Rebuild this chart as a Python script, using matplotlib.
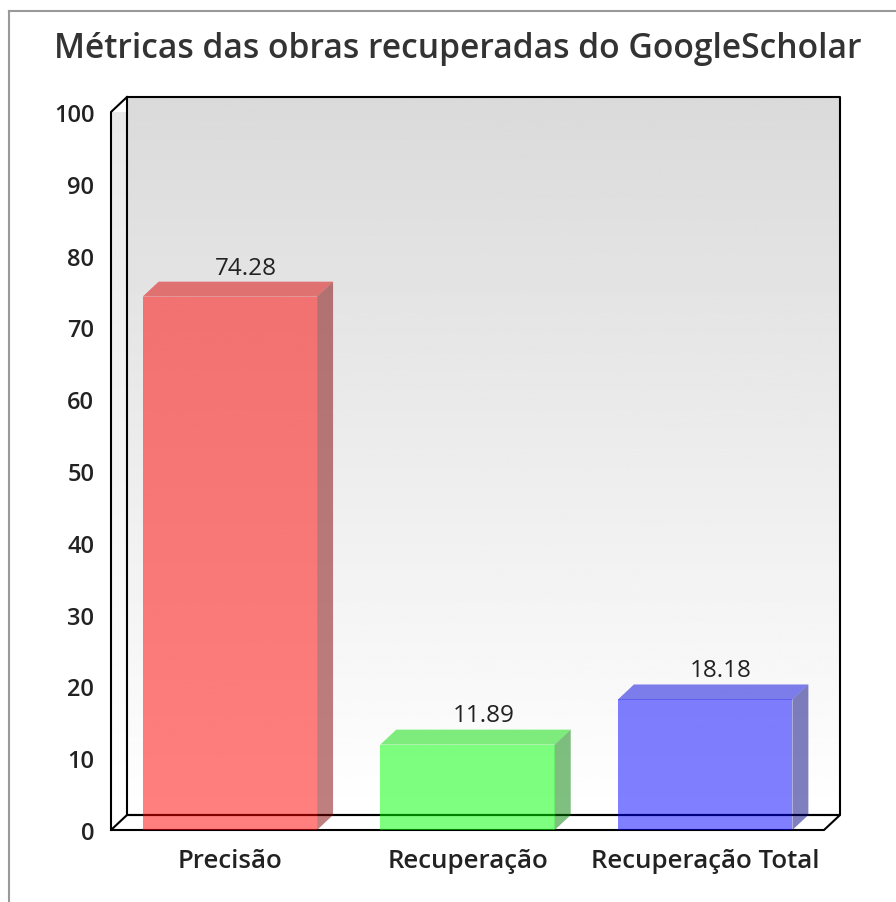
import numpy as np
import matplotlib
matplotlib.use("Agg")
import matplotlib.pyplot as plt
from matplotlib.patches import Polygon, Rectangle
from matplotlib.lines import Line2D

# data
categories = ["Precisão", "Recuperação", "Recuperação Total"]
values = [74.28, 11.89, 18.18]
value_labels = ["74.28", "11.89", "18.18"]
face_colors = [(1.0, 0.0, 0.0), (0.0, 1.0, 0.0), (0.0, 0.0, 1.0)]
yticks = list(range(0, 101, 10))

plt.rcParams['font.family'] = ['Open Sans', 'DejaVu Sans']

fig = plt.figure(figsize=(8.96, 9.03), dpi=100)
ax = fig.add_axes([111/896, 72/903, 713/896, 718/903])

x0, x1 = -0.5, len(categories) - 0.5
ymax = 100
dx = 16 / 713 * (x1 - x0)   # depth offset in data units
dy = 15 / 718 * ymax

# back wall with gradient
grad = np.linspace(0.855, 1.0, 256).reshape(-1, 1)
im = ax.imshow(grad, extent=[x0 + dx, x1 + dx, dy, ymax + dy], origin='upper',
               cmap='gray', vmin=0, vmax=1, aspect='auto', zorder=0)
im.set_clip_on(False)

# left side wall
side = Polygon([(x0, 0), (x0 + dx, dy), (x0 + dx, ymax + dy), (x0, ymax)],
               closed=True, facecolor='none', edgecolor='none')
ax.add_patch(side)
grad2 = np.linspace(0.91, 1.0, 256).reshape(-1, 1)
im2 = ax.imshow(grad2, extent=[x0, x0 + dx, 0, ymax + dy], origin='upper',
                cmap='gray', vmin=0, vmax=1, aspect='auto', zorder=0)
im2.set_clip_path(side)

# floor
floor = Polygon([(x0, 0), (x1, 0), (x1 + dx, dy), (x0 + dx, dy)], closed=True,
                facecolor='white', edgecolor='black', linewidth=1.5, zorder=1,
                clip_on=False)
ax.add_patch(floor)

lw = 1.5
ax.plot([x0 + dx, x1 + dx, x1 + dx, x0 + dx, x0 + dx],
        [dy, dy, ymax + dy, ymax + dy, dy], color='black', lw=lw, zorder=1, clip_on=False)
ax.plot([x0, x0, x0 + dx], [0, ymax, ymax + dy], color='black', lw=lw, zorder=1, clip_on=False)

# bars (3D boxes)
width = 0.734
for i, (v, c) in enumerate(zip(values, face_colors)):
    l = i - width / 2
    r = i + width / 2
    front = Rectangle((l, 0), width, v, facecolor=c, alpha=0.5, edgecolor='none', zorder=3)
    top = Polygon([(l, v), (r, v), (r + dx, v + dy), (l + dx, v + dy)],
                  facecolor=tuple(k * 0.87 for k in c), alpha=0.5, edgecolor='none', zorder=3)
    sidep = Polygon([(r, 0), (r + dx, dy), (r + dx, v + dy), (r, v)],
                    facecolor=tuple(k * 0.5 for k in c), alpha=0.5, edgecolor='none', zorder=3)
    for p in (front, top, sidep):
        ax.add_patch(p)
    ax.text(i + dx, v + dy + 0.3, value_labels[i], ha='center', va='bottom',
            fontsize=17.5, fontweight='medium', color='#222222', zorder=5)

ax.set_xlim(x0, x1)
ax.set_ylim(0, ymax)
ax.set_yticks(yticks)
ax.set_yticklabels([str(t) for t in yticks], fontsize=17, fontweight='semibold', color='#222222')
ax.set_xticks(range(len(categories)))
ax.set_xticklabels(categories, fontsize=18.6, fontweight='semibold', color='#222222')
ax.tick_params(length=0)
ax.tick_params(axis='y', pad=12)
ax.tick_params(axis='x', pad=13)
for s in ax.spines.values():
    s.set_visible(False)
ax.set_facecolor('none')

fig.text(0.511, 1 - 49/903, "Métricas das obras recuperadas do GoogleScholar",
         ha='center', va='center', fontsize=24.2, fontweight='semibold', color='#333333')

# outer border (left and top)
fig.add_artist(Line2D([9/896, 9/896], [0, 1 - 12/903], color='#999999', lw=1.5))
fig.add_artist(Line2D([9/896, 1], [1 - 12/903, 1 - 12/903], color='#999999', lw=1.5))

fig.savefig("out.png", dpi=100)
